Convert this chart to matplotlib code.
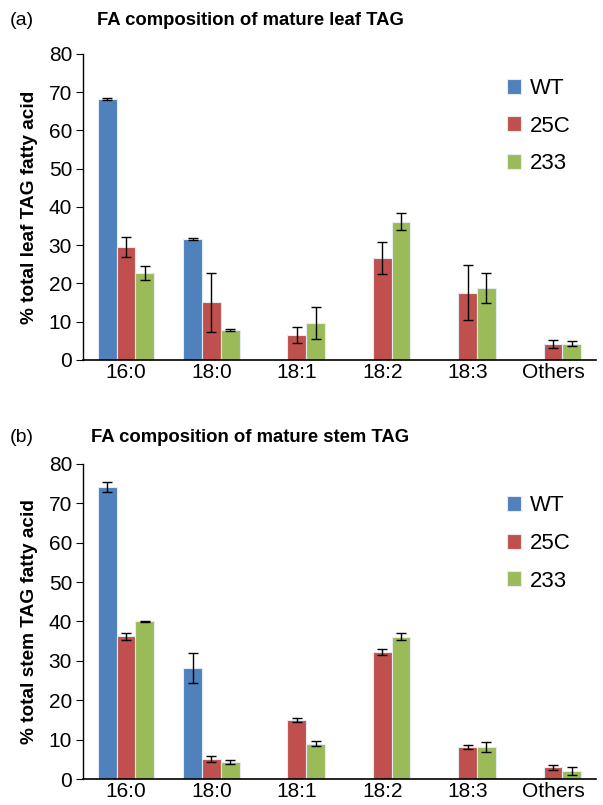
import numpy as np
import matplotlib
matplotlib.use("Agg")
import matplotlib.pyplot as plt

plt.rcParams['font.family'] = ['Liberation Sans', 'DejaVu Sans']

categorias = ['16:0', '18:0', '18:1', '18:2', '18:3', 'Others']
linhas = ['WT', '25C', '233']
cores = ['#4F81BD', '#C0504D', '#9BBB59']

# (a) folha
folha_wt = [68.2, 31.6, 0, 0, 0, 0]
folha_25c = [29.5, 15.1, 6.5, 26.6, 17.5, 4.1]
folha_233 = [22.7, 7.8, 9.6, 36.1, 18.8, 4.2]
folha_wt_err = [0.2, 0.2, 0, 0, 0, 0]
folha_25c_err = [2.6, 7.7, 2.0, 4.2, 7.2, 1.0]
folha_233_err = [1.8, 0.2, 4.1, 2.2, 3.9, 0.6]

# (b) caule
caule_wt = [74.0, 28.3, 0, 0, 0, 0]
caule_25c = [36.2, 5.1, 15.0, 32.3, 8.2, 3.0]
caule_233 = [40.0, 4.3, 9.0, 36.1, 8.2, 2.1]
caule_wt_err = [1.3, 3.8, 0, 0, 0, 0]
caule_25c_err = [1.0, 0.7, 0.6, 0.7, 0.6, 0.6]
caule_233_err = [0.1, 0.5, 0.6, 0.9, 1.2, 1.1]


def painel(ax, valores, erros, titulo, ylabel, letra, ytit, yleg):
    x = np.arange(len(categorias))
    w = 0.22
    for i in range(3):
        ax.bar(x + (i - 1) * w, valores[i], w, color=cores[i], edgecolor='#e4ebf3',
               linewidth=0.8, label=linhas[i])
        err = np.array(erros[i])
        mask = err > 0
        ax.errorbar((x + (i - 1) * w)[mask], np.array(valores[i])[mask], yerr=err[mask],
                    fmt='none', ecolor='black', elinewidth=1, capsize=3.5, capthick=1)
    ax.set_xlim(-0.5, len(categorias) - 0.5)
    ax.set_ylim(0, 80)
    ax.set_yticks(range(0, 81, 10))
    ax.set_xticks(x)
    ax.set_xticklabels(categorias)
    ax.tick_params(axis='x', length=0, labelsize=15, pad=2)
    ax.tick_params(axis='y', length=5, labelsize=15, direction='out', pad=3)
    ax.spines['top'].set_visible(False)
    ax.spines['right'].set_visible(False)
    ax.spines['left'].set_linewidth(1)
    ax.spines['bottom'].set_linewidth(1.2)
    ax.set_ylabel(ylabel, fontsize=13.7, fontweight='bold', labelpad=8)
    ax.legend(loc='upper left', bbox_to_anchor=(0.805, yleg), frameon=False, fontsize=16,
              handlelength=0.65, handleheight=0.65, labelspacing=0.75, handletextpad=0.4,
              borderpad=0)
    fig.text(0.016, ytit, letra, fontsize=14, va='center')
    fig.text(0.415, ytit, titulo, fontsize=13.3, fontweight='bold', va='center', ha='center')


fig = plt.figure(figsize=(6.03, 8.05), dpi=100)
ax1 = fig.add_axes([0.138, 0.553, 0.85, 0.380])
ax2 = fig.add_axes([0.138, 0.032, 0.85, 0.392])

painel(ax1, [folha_wt, folha_25c, folha_233], [folha_wt_err, folha_25c_err, folha_233_err],
       'FA composition of mature leaf TAG', '% total leaf TAG fatty acid', '(a)', 0.974, 0.958)
painel(ax2, [caule_wt, caule_25c, caule_233], [caule_wt_err, caule_25c_err, caule_233_err],
       'FA composition of mature stem TAG', '% total stem TAG fatty acid', '(b)', 0.457, 0.935)

fig.savefig('out.png', dpi=100)
